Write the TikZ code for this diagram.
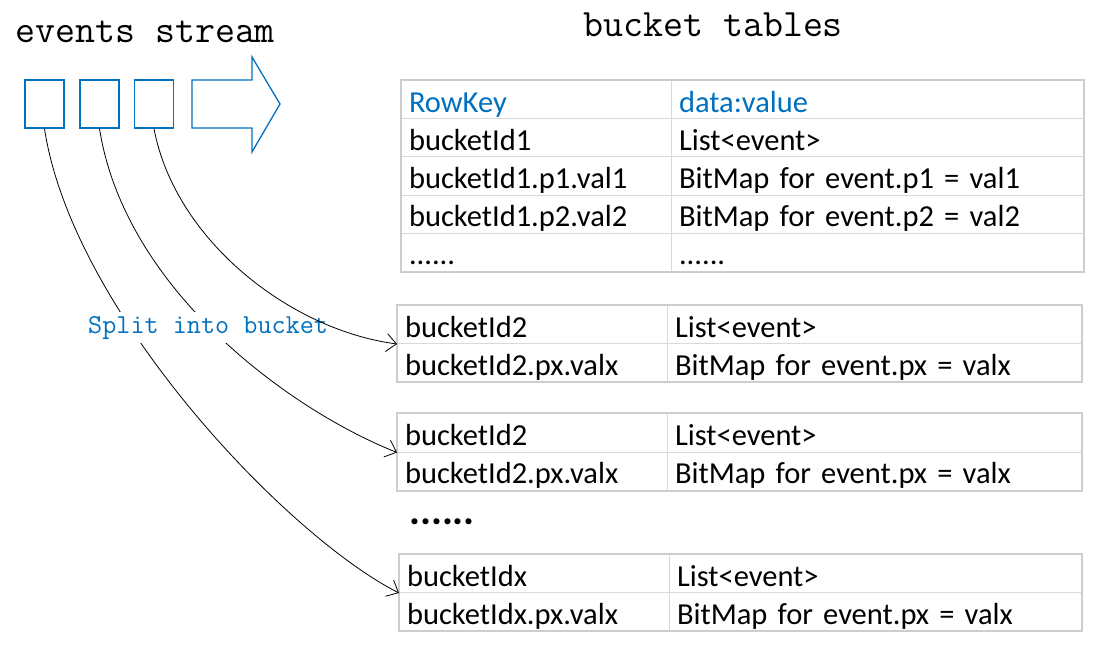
\documentclass[tikz,border=0pt]{standalone}
\usepackage{fontspec}
\setmainfont{Carlito}
\usetikzlibrary{arrows.meta}
\definecolor{evblue}{HTML}{0070C0}
\definecolor{cellgray}{HTML}{D9D9D9}
\definecolor{outgray}{HTML}{CDCDCD}
\newcommand{\cellfont}{\fontsize{30.5}{36}\selectfont}
\newcommand{\titlefont}{\ttfamily\fontsize{38.8}{44}\selectfont}
\tikzset{
  cell/.style={draw=cellgray, line width=1pt, anchor=north west, inner xsep=7.5pt,
    inner ysep=0pt, align=left, text height=27pt, text depth=2pt, font=\cellfont},
  outerline/.style={draw=outgray, line width=2pt},
  evbox/.style={draw=evblue, line width=1.3pt, minimum width=39pt, minimum height=48pt, inner sep=0pt},
  flow/.style={draw=black, line width=0.8pt, -{Straight Barb[length=10pt,width=18pt]}},
  title/.style={anchor=base west, inner sep=0pt, font=\titlefont},
}
\begin{document}
\begin{tikzpicture}[x=1pt,y=-1pt]
\useasboundingbox (0,0) rectangle (1108,650);

% titles
\node[title] (evtitle) at (15,43) {events stream};
\node[title] (bttitle) at (583,37) {bucket tables};

% event boxes and stream arrow
\node[evbox] (e1) at (44.5,104) {};
\node[evbox] (e2) at (99.5,104) {};
\node[evbox] (e3) at (154,104) {};
\draw[draw=evblue, line width=1.3pt, line join=miter]
  (192,80) -- (252,80) -- (252,57) -- (280,104) -- (252,152) -- (252,128) -- (192,128) -- cycle;

% table 1
\node[cell, text width=255pt, minimum height=38.2pt, text=evblue] (t1-1-1) at (401,80) {RowKey};
\node[cell, text width=397pt, minimum height=38.2pt, text=evblue] (t1-1-2) at (671,80) {data:value};
\node[cell, text width=255pt, minimum height=38.2pt] (t1-2-1) at (401,118.2) {bucketId1};
\node[cell, text width=397pt, minimum height=38.2pt] (t1-2-2) at (671,118.2) {List<event>};
\node[cell, text width=255pt, minimum height=38.2pt] (t1-3-1) at (401,156.4) {bucketId1.p1.val1};
\node[cell, text width=397pt, minimum height=38.2pt] (t1-3-2) at (671,156.4) {BitMap for event.p1 = val1};
\node[cell, text width=255pt, minimum height=38.2pt] (t1-4-1) at (401,194.6) {bucketId1.p2.val2};
\node[cell, text width=397pt, minimum height=38.2pt] (t1-4-2) at (671,194.6) {BitMap for event.p2 = val2};
\node[cell, text width=255pt, minimum height=38.2pt] (t1-5-1) at (401,232.8) {......};
\node[cell, text width=397pt, minimum height=38.2pt] (t1-5-2) at (671,232.8) {......};
\draw[outerline] (t1-1-1.north west) rectangle (t1-5-2.south east);

% table 2
\node[cell, text width=255pt, minimum height=38pt] (t2-1-1) at (397,305) {bucketId2};
\node[cell, text width=399pt, minimum height=38pt] (t2-1-2) at (667,305) {List<event>};
\node[cell, text width=255pt, minimum height=38pt] (t2-2-1) at (397,343) {bucketId2.px.valx};
\node[cell, text width=399pt, minimum height=38pt] (t2-2-2) at (667,343) {BitMap for event.px = valx};
\draw[outerline] (t2-1-1.north west) rectangle (t2-2-2.south east);

% table 3
\node[cell, text width=255pt, minimum height=38.5pt] (t3-1-1) at (397,413) {bucketId2};
\node[cell, text width=399pt, minimum height=38.5pt] (t3-1-2) at (667,413) {List<event>};
\node[cell, text width=255pt, minimum height=38.5pt] (t3-2-1) at (397,451.5) {bucketId2.px.valx};
\node[cell, text width=399pt, minimum height=38.5pt] (t3-2-2) at (667,451.5) {BitMap for event.px = valx};
\draw[outerline] (t3-1-1.north west) rectangle (t3-2-2.south east);

% dots
\node[anchor=base west, inner sep=0pt, font=\bfseries\fontsize{41}{44}\selectfont] (moredots) at (409,524) {......};

% table 4
\node[cell, text width=255pt, minimum height=38pt] (t4-1-1) at (399,554) {bucketIdx};
\node[cell, text width=397pt, minimum height=38pt] (t4-1-2) at (669,554) {List<event>};
\node[cell, text width=255pt, minimum height=38pt] (t4-2-1) at (399,592) {bucketIdx.px.valx};
\node[cell, text width=397pt, minimum height=38pt] (t4-2-2) at (669,592) {BitMap for event.px = valx};
\draw[outerline] (t4-1-1.north west) rectangle (t4-2-2.south east);

% connectors
\draw[flow] (e1.south) .. controls (72,310) and (285,535) .. (t4-1-1.south west);
\draw[flow] (e2.south) .. controls (125,290) and (290,410) .. (t3-1-1.south west);
\node[anchor=base west, inner sep=4pt, fill=white, text=evblue, font=\ttfamily\fontsize{27.4}{30}\selectfont] (split) at (84,333) {Split into bucket};
\draw[flow] (e3.south) .. controls (175,240) and (290,330) .. (t2-1-1.south west);
\end{tikzpicture}
\end{document}
